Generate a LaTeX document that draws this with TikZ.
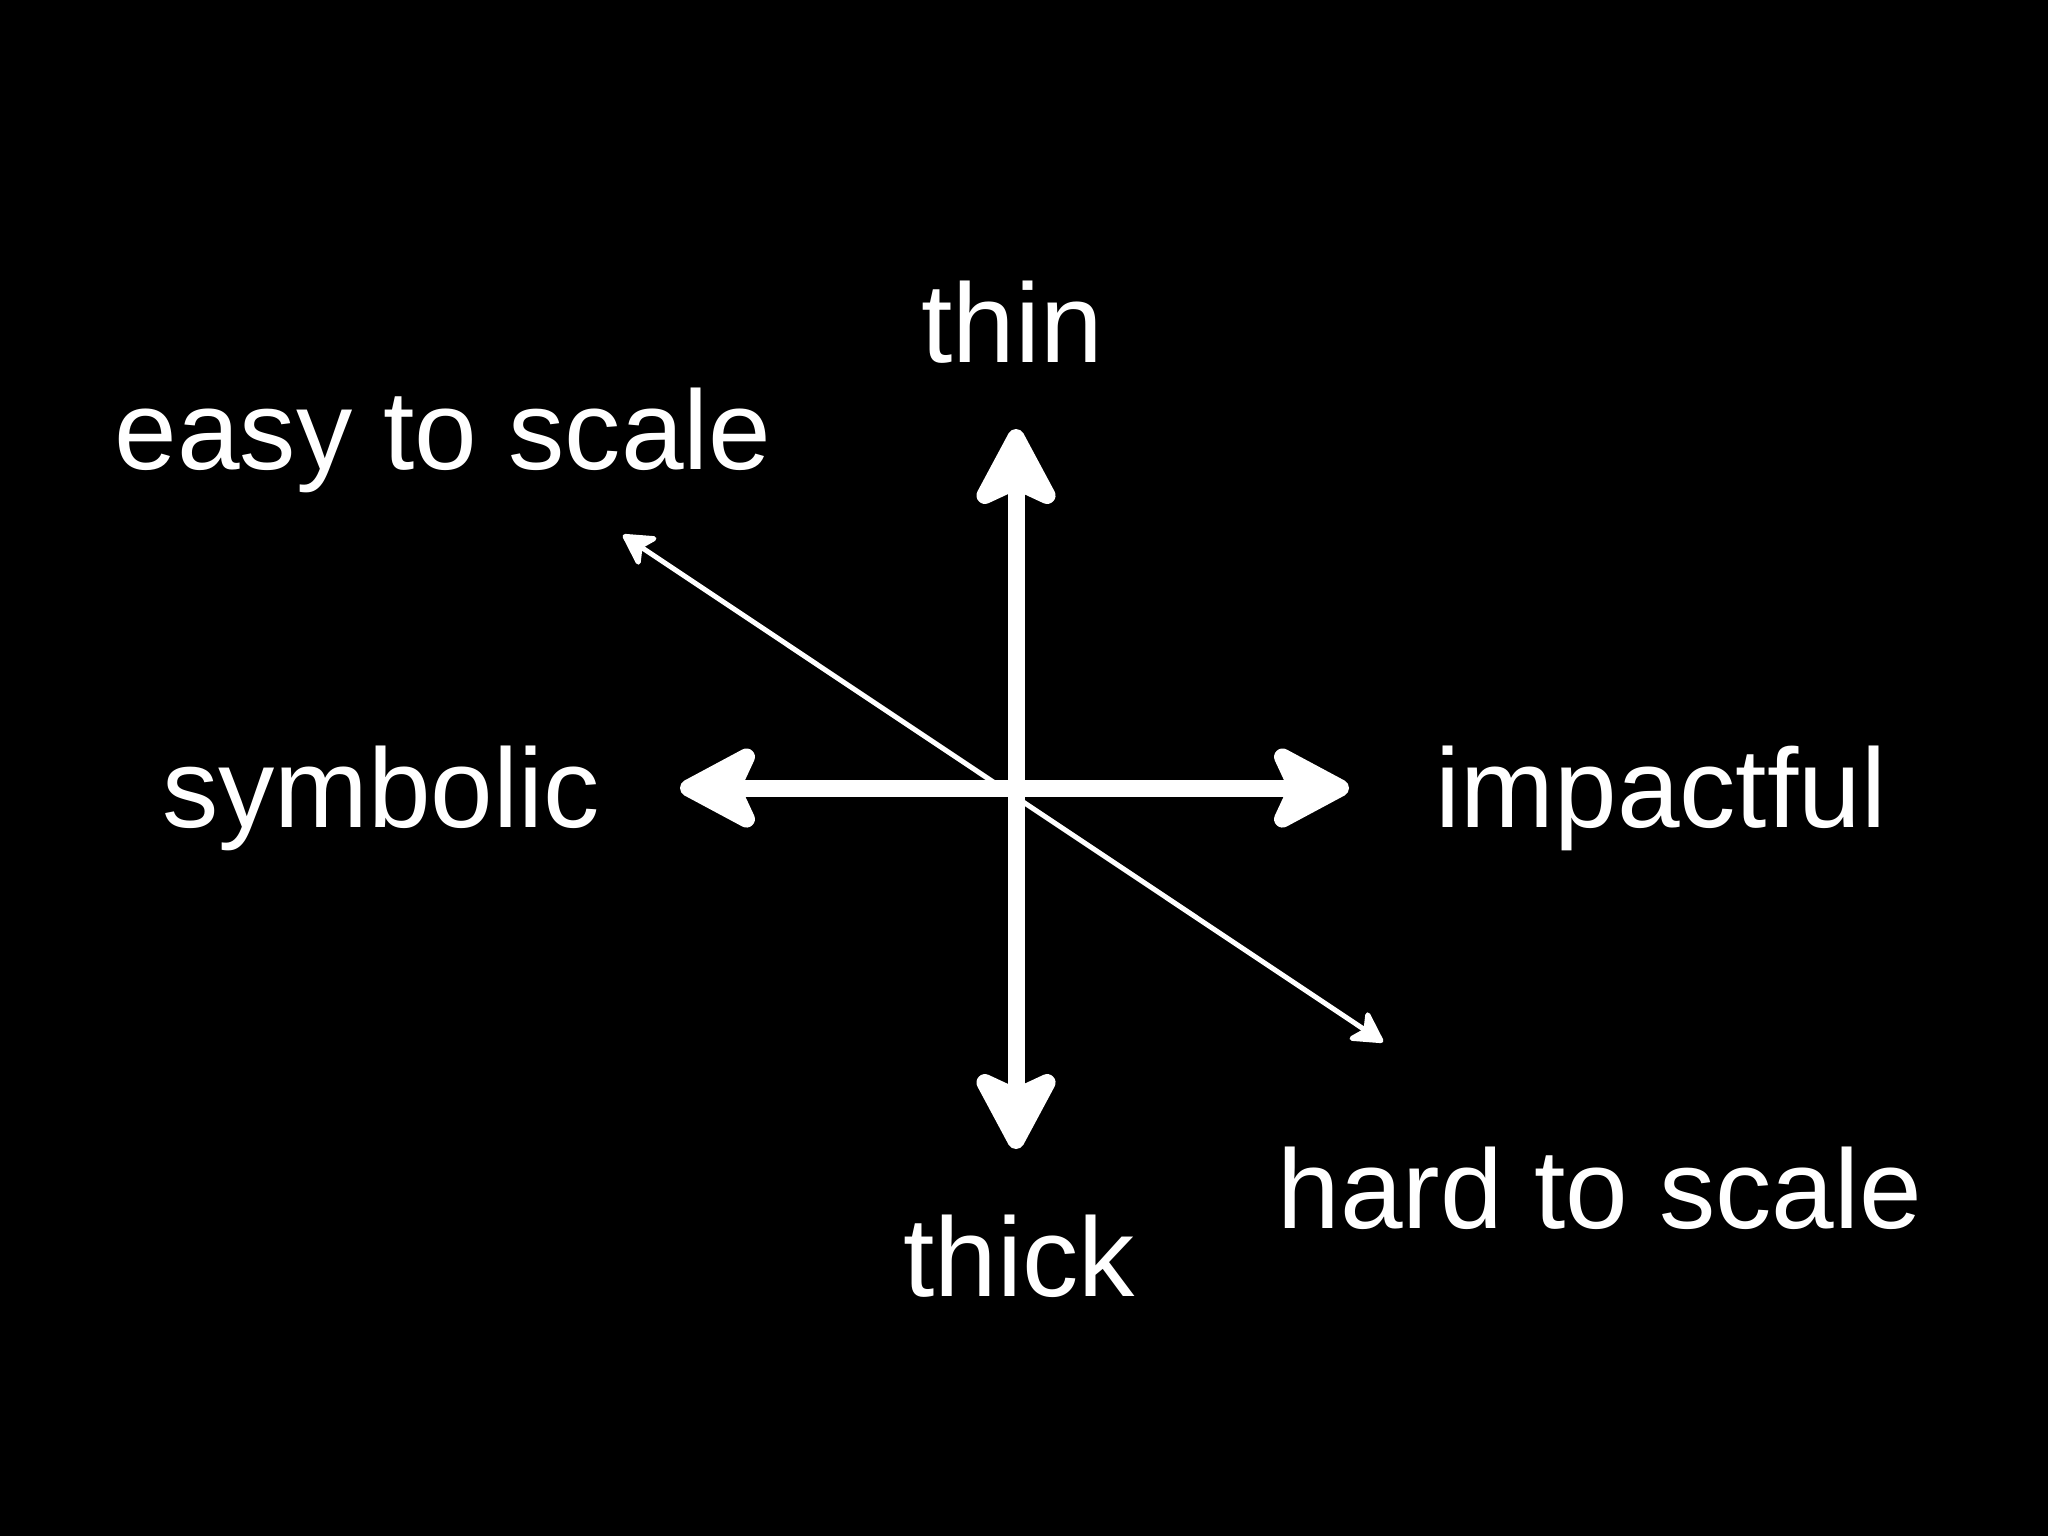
\documentclass[tikz,border=0pt]{standalone}
\usepackage{fontspec}
\setmainfont{Liberation Sans}
\usetikzlibrary{arrows.meta}
\tikzset{
	axis/.style={line width=0.17cm, white, {Stealth[round, length=0.93cm, width=0.98cm, inset=0.22cm]}-{Stealth[round, length=0.93cm, width=0.98cm, inset=0.22cm]}},
	diag/.style={line width=0.05cm, white, {Stealth[round, length=0.36cm, width=0.4cm, inset=0.1cm]}-{Stealth[round, length=0.36cm, width=0.4cm, inset=0.1cm]}},
	word/.style={text=white, font=\fontsize{32}{38}\selectfont, anchor=base, inner sep=0pt}
}
\begin{document}
\begin{tikzpicture}[x=0.01cm, y=-0.01cm]
		\fill[black] (0, 0) rectangle (2048, 1536);
		\useasboundingbox (0, 0) rectangle (2048, 1536);
		% labels
		\node[word] (thin) at (1012, 362) {thin};
		\node[word] (thick) at (1019, 1296) {thick};
		\node[word] (symbolic) at (381, 827) {symbolic};
		\node[word] (impactful) at (1661, 827) {impactful};
		\node[word] (easy) at (443, 469) {easy to scale};
		\node[word] (hard) at (1600, 1228) {hard to scale};
		% arrow tips
		\coordinate (vtop) at (1016, 429);
		\coordinate (vbot) at (1016, 1149);
		\coordinate (hleft) at (680, 788);
		\coordinate (hright) at (1349, 788);
		\coordinate (dtop) at (623, 535);
		\coordinate (dbot) at (1383, 1042);
		\draw[axis] (vbot)--(vtop);
		\draw[axis] (hleft)--(hright);
		\draw[diag] (dtop)--(dbot);
	\end{tikzpicture}
\end{document}
